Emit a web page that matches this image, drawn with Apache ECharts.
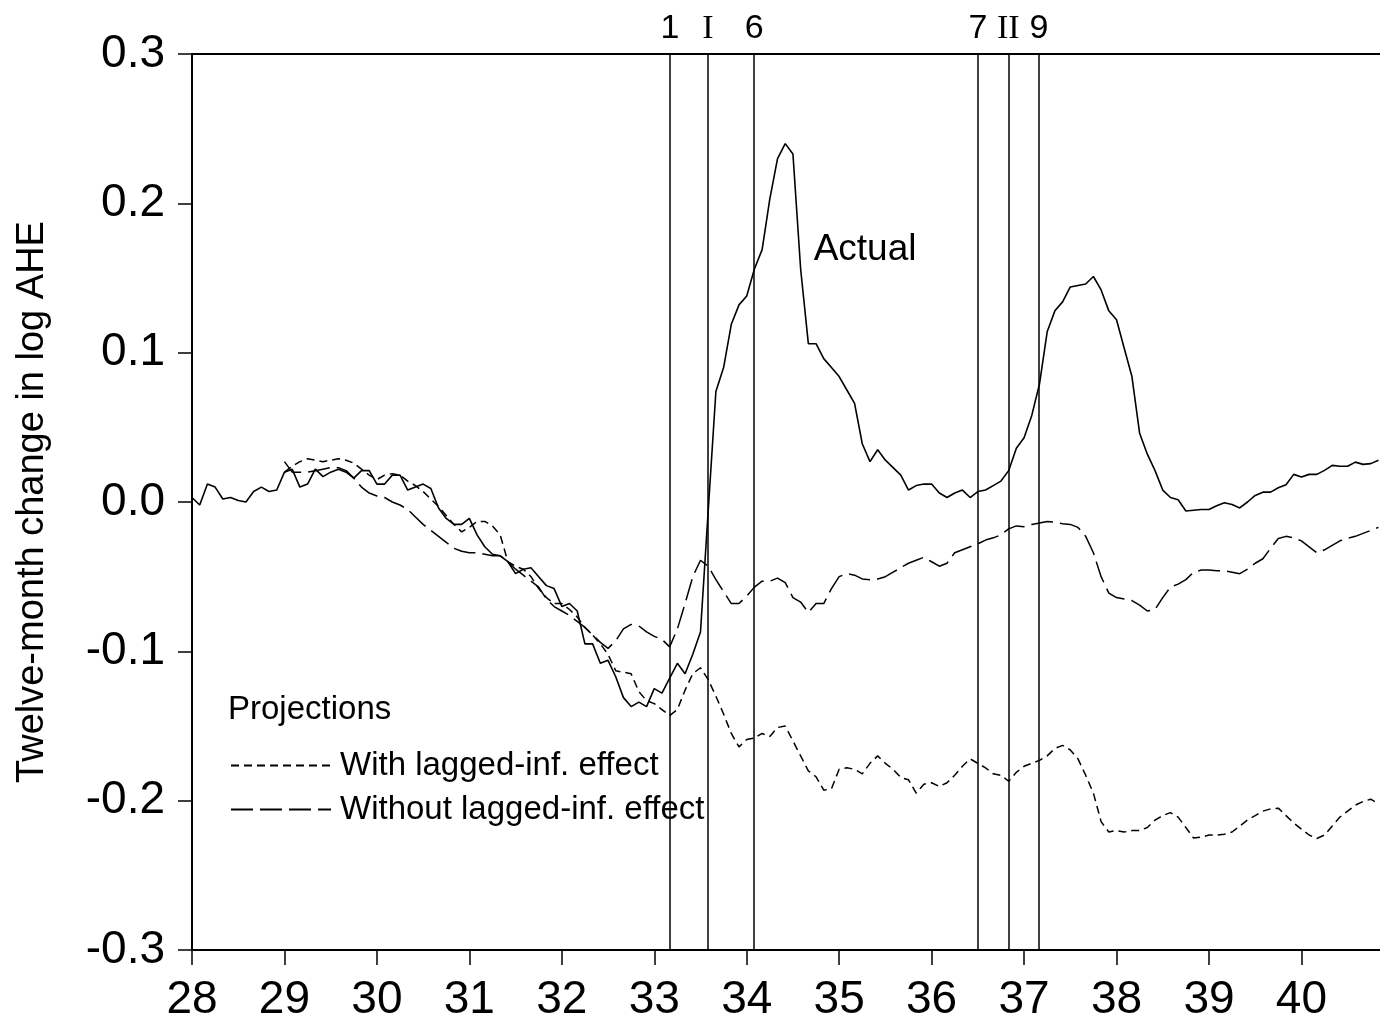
<!DOCTYPE html>
<html>
<head>
<meta charset="utf-8">
<script src="https://cdn.jsdelivr.net/npm/echarts@6/dist/echarts.min.js"></script>
<style>
  html, body { margin: 0; padding: 0; background: #fff; }
  #chart { width: 1380px; height: 1023px; }
</style>
</head>
<body>
<div id="chart"></div>
<script>
// monthly values, first point = Jan 1928
const actualStart = 28
const actual = [
  0.003, -0.002, 0.012, 0.010, 0.002, 0.003, 0.001, 0.000, 0.007, 0.010, 0.007, 0.008,
  0.020, 0.022, 0.010, 0.012, 0.022, 0.017, 0.020, 0.022, 0.020, 0.016, 0.021, 0.021,
  0.012, 0.012, 0.018, 0.018, 0.008, 0.010, 0.012, 0.009, -0.004, -0.011, -0.015, -0.015,
  -0.011, -0.022, -0.030, -0.035, -0.036, -0.040, -0.048, -0.045, -0.044, -0.050, -0.056, -0.058,
  -0.070, -0.068, -0.073, -0.095, -0.095, -0.108, -0.106, -0.117, -0.131, -0.137, -0.134, -0.137,
  -0.125, -0.128, -0.118, -0.108, -0.115, -0.102, -0.087, -0.006, 0.074, 0.090, 0.119, 0.132,
  0.138, 0.156, 0.169, 0.203, 0.230, 0.240, 0.233, 0.156, 0.106, 0.106, 0.096, 0.090,
  0.084, 0.075, 0.066, 0.039, 0.027, 0.035, 0.028, 0.023, 0.018, 0.008, 0.011, 0.012,
  0.012, 0.006, 0.003, 0.006, 0.008, 0.003, 0.007, 0.008, 0.011, 0.014, 0.021, 0.036,
  0.043, 0.058, 0.079, 0.114, 0.128, 0.134, 0.144, 0.145, 0.146, 0.151, 0.142, 0.128,
  0.122, 0.103, 0.084, 0.046, 0.032, 0.021, 0.008, 0.003, 0.0015, -0.006, -0.0055, -0.005,
  -0.005, -0.0025, -0.0005, -0.0017, -0.004, 0.000, 0.0044, 0.0066, 0.0066, 0.0095, 0.0116, 0.0185,
  0.0167, 0.0185, 0.0185, 0.0212, 0.0245, 0.0239, 0.0239, 0.0267, 0.0252, 0.0257, 0.028
]

// projections start Jan 1929
const projStart = 29
const withLagged = [
  0.020, 0.024, 0.027, 0.029, 0.028, 0.027, 0.028, 0.029, 0.028, 0.026, 0.022, 0.018,
  0.015, 0.018, 0.019, 0.018, 0.014, 0.011, 0.007, 0.002, -0.003, -0.009, -0.015, -0.020,
  -0.017, -0.013, -0.013, -0.016, -0.022, -0.040, -0.043, -0.045, -0.050, -0.058, -0.064, -0.068,
  -0.068, -0.072, -0.077, -0.084, -0.089, -0.095, -0.102, -0.113, -0.114, -0.115, -0.127, -0.133,
  -0.135, -0.139, -0.143, -0.139, -0.126, -0.115, -0.111, -0.119, -0.130, -0.142, -0.155, -0.164,
  -0.159, -0.158, -0.155, -0.157, -0.151, -0.150, -0.160, -0.170, -0.180, -0.184, -0.193, -0.192,
  -0.179, -0.178, -0.179, -0.182, -0.175, -0.170, -0.175, -0.179, -0.1845, -0.186, -0.195, -0.189,
  -0.188, -0.1905, -0.188, -0.183, -0.177, -0.172, -0.175, -0.178, -0.182, -0.183, -0.187, -0.181,
  -0.177, -0.175, -0.173, -0.170, -0.165, -0.163, -0.166, -0.172, -0.183, -0.195, -0.214, -0.221,
  -0.220, -0.221, -0.220, -0.220, -0.218, -0.213, -0.210, -0.208, -0.211, -0.218, -0.225, -0.2245,
  -0.223, -0.223, -0.2225, -0.221, -0.217, -0.213, -0.210, -0.207, -0.2055, -0.205, -0.210, -0.215,
  -0.219, -0.223, -0.2253, -0.223, -0.217, -0.211, -0.207, -0.203, -0.2006, -0.199, -0.202
]
const withoutLagged = [
  0.027, 0.020, 0.020, 0.020, 0.021, 0.022, 0.023, 0.023, 0.021, 0.016, 0.010, 0.006,
  0.004, 0.003, 0.000, -0.002, -0.005, -0.010, -0.015, -0.019, -0.023, -0.027, -0.031, -0.033,
  -0.034, -0.034, -0.035, -0.036, -0.036, -0.040, -0.045, -0.049, -0.053, -0.057, -0.065, -0.070,
  -0.073, -0.076, -0.080, -0.084, -0.089, -0.094, -0.098, -0.093, -0.085, -0.082, -0.083, -0.087,
  -0.090, -0.092, -0.097, -0.085, -0.068, -0.050, -0.039, -0.043, -0.052, -0.060, -0.068, -0.068,
  -0.063, -0.057, -0.053, -0.053, -0.051, -0.054, -0.064, -0.067, -0.074, -0.068, -0.068, -0.058,
  -0.050, -0.048, -0.049, -0.0515, -0.052, -0.0515, -0.050, -0.047, -0.044, -0.041, -0.039, -0.037,
  -0.040, -0.043, -0.041, -0.034, -0.032, -0.030, -0.028, -0.0255, -0.024, -0.022, -0.018, -0.016,
  -0.0165, -0.015, -0.014, -0.013, -0.0135, -0.0145, -0.015, -0.017, -0.023, -0.034, -0.050, -0.061,
  -0.064, -0.065, -0.066, -0.069, -0.073, -0.072, -0.064, -0.057, -0.055, -0.052, -0.047, -0.0456,
  -0.0456, -0.046, -0.046, -0.047, -0.048, -0.045, -0.041, -0.038, -0.031, -0.0245, -0.023, -0.024,
  -0.026, -0.030, -0.034, -0.032, -0.029, -0.026, -0.0243, -0.023, -0.021, -0.019, -0.017
]

// year ticks on the x axis
const xTicks = [28, 29, 30, 31, 32, 33, 34, 35, 36, 37, 38, 39, 40]

// vertical event markers
const eventDates = [33.17, 33.58, 34.08, 36.50, 36.83, 37.16]
const eventLabels = ['1', 'I', '6', '7', 'II', '9']

const toPairs = (start, arr) => arr.map((v, i) => [start + i / 12, v])

const chart = echarts.init(document.getElementById('chart'))

const black = '#000'
const sans = 'Liberation Sans, Arial, sans-serif'
const serif = 'Liberation Serif, Times New Roman, serif'

chart.setOption({
  animation: false,
  backgroundColor: '#fff',
  title: {
    text: 'Projections',
    left: 223,
    top: 688,
    textStyle: { fontFamily: sans, fontSize: 33, fontWeight: 'normal', color: black }
  },
  legend: {
    data: ['With lagged-inf. effect', 'Without lagged-inf. effect'],
    orient: 'vertical',
    left: 225,
    top: 744,
    itemWidth: 100,
    itemHeight: 14,
    itemGap: 11,
    itemStyle: { opacity: 0 },
    textStyle: { fontFamily: sans, fontSize: 33, color: black, padding: [0, 0, 0, 4] }
  },
  grid: { left: 192, right: 0, top: 54, bottom: 73, containLabel: false },
  xAxis: [{
    type: 'value',
    min: 28,
    max: 40.85,
    interval: 1,
    axisLine: { onZero: false, lineStyle: { color: black, width: 2 } },
    axisTick: { length: 15, customValues: xTicks, lineStyle: { color: black, width: 1.5 } },
    axisLabel: {
      margin: 27,
      fontFamily: sans,
      fontSize: 46,
      color: black,
      customValues: xTicks,
      formatter: v => String(Math.round(v))
    },
    splitLine: { show: false }
  }, {
    type: 'value',
    position: 'top',
    min: 28,
    max: 40.85,
    axisLine: { show: true, onZero: false, lineStyle: { color: black, width: 2 } },
    axisTick: { show: false },
    axisLabel: { show: false },
    splitLine: { show: false }
  }],
  yAxis: {
    type: 'value',
    min: -0.3,
    max: 0.3,
    interval: 0.1,
    name: 'Twelve-month change in log AHE',
    nameLocation: 'middle',
    nameGap: 140,
    nameTextStyle: { fontFamily: sans, fontSize: 38, color: black },
    axisLine: { show: true, lineStyle: { color: black, width: 2 } },
    axisTick: { show: true, length: 14, lineStyle: { color: black, width: 1.5 } },
    axisLabel: {
      margin: 27,
      fontFamily: sans,
      fontSize: 46,
      color: black,
      formatter: v => v.toFixed(1)
    },
    splitLine: { show: false }
  },
  series: [
    {
      name: 'Actual',
      type: 'line',
      symbol: 'none',
      data: toPairs(actualStart, actual),
      lineStyle: { color: black, width: 1.6 },
      markLine: {
        silent: true,
        symbol: ['none', 'none'],
        lineStyle: { color: black, width: 1.5, type: 'solid' },
        label: {
          show: true,
          position: 'end',
          distance: 8,
          fontFamily: sans,
          fontSize: 34,
          color: black
        },
        data: eventDates.map((d, i) => ({
          xAxis: d,
          label: {
            formatter: eventLabels[i],
            fontFamily: eventLabels[i].startsWith('I') ? serif : sans
          }
        }))
      },
      markPoint: {
        symbol: 'circle',
        symbolSize: 0,
        label: {
          show: true,
          formatter: 'Actual',
          fontFamily: sans,
          fontSize: 37,
          color: black
        },
        data: [{ coord: [35.28, 0.169] }]
      }
    },
    {
      name: 'With lagged-inf. effect',
      type: 'line',
      symbol: 'none',
      data: toPairs(projStart, withLagged),
      lineStyle: { color: black, width: 1.5, type: [8, 5] },
      itemStyle: { color: black }
    },
    {
      name: 'Without lagged-inf. effect',
      type: 'line',
      symbol: 'none',
      data: toPairs(projStart, withoutLagged),
      lineStyle: { color: black, width: 1.5, type: [22, 7] },
      itemStyle: { color: black }
    }
  ]
})
</script>
</body>
</html>
